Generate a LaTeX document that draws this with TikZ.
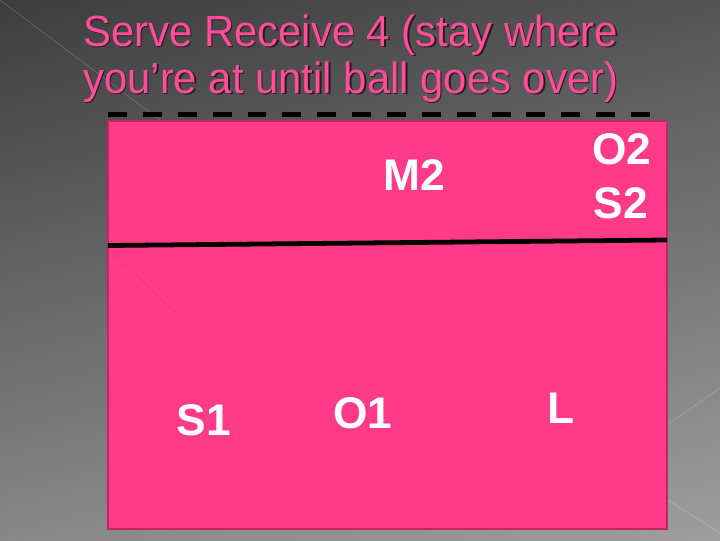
\documentclass[tikz,border=0pt]{standalone}
\usepackage{fontspec}
\setmainfont{Liberation Sans}
\usetikzlibrary{shadings}
\definecolor{court}{HTML}{FF3A89}
\definecolor{courtedge}{HTML}{C42468}
\definecolor{titlepink}{HTML}{FF4D9A}
\definecolor{titleshade}{HTML}{2A1A22}
\tikzset{
  heading/.style={anchor=base west, inner sep=0pt, text=titlepink, xscale=0.96,
    font=\fontsize{31}{31}\selectfont},
  headshadow/.style={heading, text=titleshade},
  player/.style={inner sep=0pt, text=white,
    font=\bfseries\fontsize{31.5}{31.5}\selectfont},
}
\begin{document}
\begin{tikzpicture}[x=0.025cm,y=-0.025cm]
\useasboundingbox (0,0) rectangle (720,540);
\shade[upper left=black!76, upper right=black!67, lower left=black!47, lower right=black!38]
  (0,0) rectangle (720,540);
% faint theme lines
\draw[white,opacity=0.22] (0,0) -- (160,120);
\draw[white,opacity=0.22] (667,425) -- (720,388);
\draw[white,opacity=0.22] (668,500) -- (720,533);

% title
\node[headshadow] (line1s) at (84.5,47.8) {Serve Receive 4 (stay where};
\node[headshadow] (line2s) at (84.5,94.8) {you’re at until ball goes over)};
\node[heading] (line1) at (83,46.5) {Serve Receive 4 (stay where};
\node[heading] (line2) at (83,93.5) {you’re at until ball goes over)};

% court
\fill[court, draw=courtedge, line width=1.5pt] (108,121) rectangle (667,529);
\draw[black!60!court, opacity=0.15] (110,250) -- (180,317);
\coordinate (netL) at (108,114.5);
\coordinate (netR) at (660,114.5);
\draw[line width=3.5pt, dash pattern=on 13.5pt off 11.3pt] (netL) -- (netR);
\coordinate (tenL) at (108,245.5);
\coordinate (tenR) at (667,240);
\draw[line width=3.4pt] (tenL) -- (tenR);

% players
\foreach \name/\x/\y in {M2/414/175, O2/622/149, S2/621/203, S1/204/420, O1/363/413, L/561/408}{
  \node[player] (\name) at (\x,\y) {\name};
}
\end{tikzpicture}
\end{document}
